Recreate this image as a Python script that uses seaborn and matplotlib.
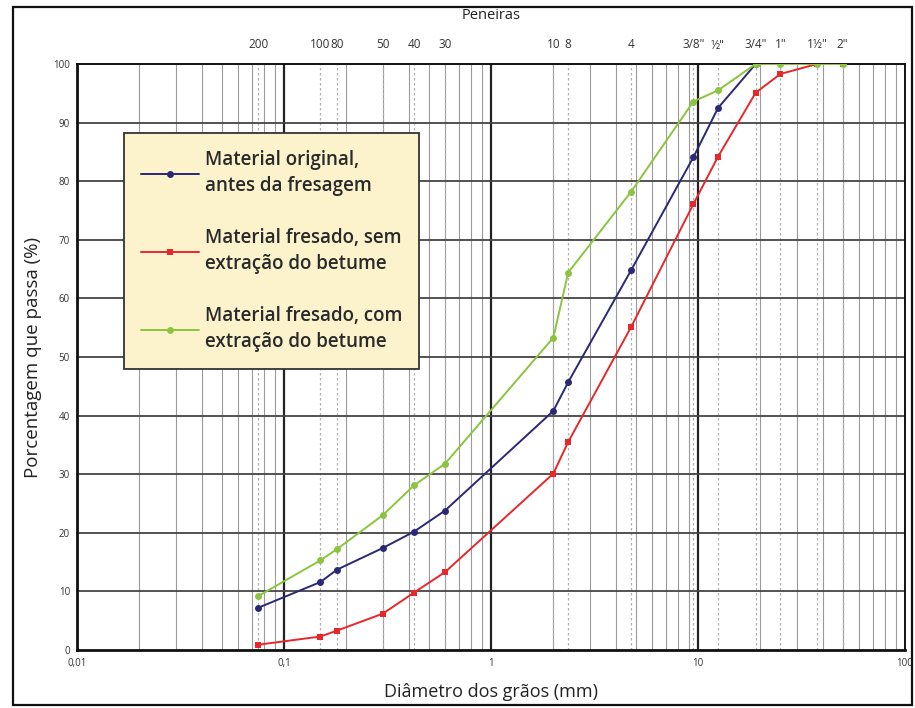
import matplotlib
matplotlib.use('Agg')
import matplotlib.pyplot as plt
import seaborn as sns
import pandas as pd
import numpy as np
from matplotlib.patches import Rectangle

# sieve openings (mm) and their names
sieve_mm = [0.075, 0.15, 0.18, 0.3, 0.425, 0.6, 2.0, 2.36, 4.75, 9.5, 12.5, 19.0, 25.0, 37.5, 50.0]
sieve_names = ["200", "100", "80", "50", "40", "30", "10", "8", "4", '3/8"', '½"', '3/4"', '1"', '1½"', '2"']

# percent passing
original = [7.2, 11.6, 13.7, 17.4, 20.2, 23.8, 40.8, 45.7, 64.8, 84.1, 92.5, 100.0]
fresado_sem = [0.9, 2.3, 3.3, 6.2, 9.8, 13.3, 30.1, 35.5, 55.1, 76.1, 84.2, 95.1, 98.3, 100.0, 100.0]
fresado_com = [9.2, 15.3, 17.2, 23.0, 28.1, 31.8, 53.3, 64.4, 78.2, 93.6, 95.5, 100.0, 100.0, 100.0, 100.0]

labels = ["Material original,\nantes da fresagem",
          "Material fresado, sem\nextração do betume",
          "Material fresado, com\nextração do betume"]
colors = ["#2a2877", "#e8272b", "#8cc43f"]

rows = []
for lab, vals in zip(labels, [original, fresado_sem, fresado_com]):
    for d, p in zip(sieve_mm, vals):
        rows.append({'Serie': lab, 'Diametro': d, 'Passa': p})
df = pd.DataFrame(rows)

sns.set_style('white')
plt.rcParams['font.family'] = ['Open Sans', 'DejaVu Sans']

fig = plt.figure(figsize=(9.15, 7.08), dpi=100)
ax = fig.add_axes([77 / 915, 1 - 650 / 708, 828 / 915, 586 / 708])

# background grid
for dec in [0.01, 0.1, 1, 10]:
    for k in range(2, 10):
        ax.axvline(dec * k, color='#9a9a9a', lw=0.8, zorder=1)
for v in [0.1, 1, 10]:
    ax.axvline(v, color='#222222', lw=1.6, zorder=1)
for s in sieve_mm:
    ax.axvline(s, color='#b0b0b0', lw=0.9, ls=(0, (2, 2)), zorder=1)
for h in range(10, 100, 10):
    ax.axhline(h, color='#444444', lw=1.3, zorder=1)

sns.lineplot(data=df, x='Diametro', y='Passa', hue='Serie', palette=colors,
             style='Serie', markers=['o', 's', 'o'], dashes=False,
             markersize=5, linewidth=1.4, markeredgewidth=0,
             sort=False, ax=ax, zorder=3)

ax.set_xscale('log')
ax.set_xlim(0.01, 100)
ax.set_ylim(0, 100)
ax.set_xticks([0.01, 0.1, 1, 10, 100])
ax.set_xticklabels(["0,01", "0,1", "1", "10", "100"])
ax.xaxis.set_minor_locator(matplotlib.ticker.NullLocator())
ax.set_yticks(range(0, 101, 10))
ax.tick_params(axis='both', labelsize=7, length=3, width=0.8, direction='out', colors='#333333',
               labelcolor='#333333', pad=2)
ax.tick_params(axis='x', length=0, pad=6)
ax.set_xlabel("Diâmetro dos grãos (mm)", fontsize=13, color='#222222', labelpad=10)
ax.set_ylabel("Porcentagem que passa (%)", fontsize=13.5, color='#222222', labelpad=8)
for side, sp in ax.spines.items():
    sp.set_visible(True)
    sp.set_color('#111111')
    sp.set_linewidth(2.0 if side in ('left', 'bottom') else 1.4)

leg = ax.legend(loc='upper left', bbox_to_anchor=(0.0568, 0.882),
                prop={'size': 13.5, 'weight': 'semibold'},
                frameon=True, fancybox=False, facecolor='#fcf2cc', edgecolor='#333333',
                framealpha=1, handlelength=3.1, handletextpad=0.3, labelspacing=1.7,
                borderpad=0.9, borderaxespad=0, title=None)
leg.get_frame().set_linewidth(1.3)
for t in leg.get_texts():
    t.set_color('#2a2a2a')
    t.set_linespacing(1.4)

# sieve axis on top
top = ax.twiny()
top.set_xscale('log')
top.set_xlim(0.01, 100)
top.set_xticks(sieve_mm)
top.set_xticklabels(sieve_names)
top.xaxis.set_minor_locator(matplotlib.ticker.NullLocator())
top.tick_params(axis='x', length=0, labelsize=8.5, pad=9, labelcolor='#333333')
top.set_xlabel("Peneiras", fontsize=10.5, labelpad=14, color='#222222')
for sp in top.spines.values():
    sp.set_visible(False)

# outer frame
fig.add_artist(Rectangle((13 / 915, 3 / 708), 899 / 915, 698 / 708, transform=fig.transFigure,
                         fill=False, edgecolor='#111111', lw=1.6))

plt.savefig('out.png', dpi=100)
plt.close()
